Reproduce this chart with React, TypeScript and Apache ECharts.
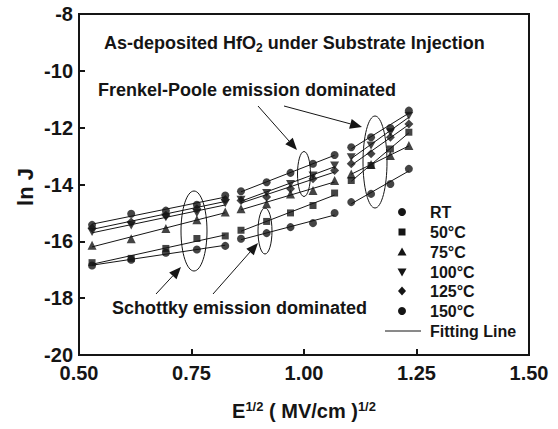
import React, { useEffect, useRef } from "react";
import * as echarts from "echarts";

// x positions (E^1/2) of the three measurement groups
const xLow = [0.529, 0.616, 0.693, 0.762, 0.825];
const xMid = [0.86, 0.917, 0.97, 1.02, 1.068];
const xHigh = [1.105, 1.149, 1.192, 1.233];

// ln J values, per temperature and group
const rtLow = [-16.85, -16.65, -16.4, -16.29, -16.16];
const rtMid = [-15.91, -15.71, -15.5, -15.36, -15.0];
const rtHigh = [-14.62, -14.33, -13.98, -13.45];

const t50Low = [-16.75, -16.6, -16.25, -15.9, -15.81];
const t50Mid = [-15.61, -15.3, -15.0, -14.74, -14.3];
const t50High = [-13.86, -13.33, -12.75, -12.16];

const t75Low = [-16.14, -15.91, -15.55, -15.24, -14.97];
const t75Mid = [-14.85, -14.68, -14.33, -14.21, -13.86];
const t75High = [-13.63, -13.3, -12.98, -12.63];

const t100Low = [-15.67, -15.44, -15.15, -15.0, -14.66];
const t100Mid = [-14.54, -14.3, -13.98, -13.68, -13.33];
const t100High = [-13.04, -12.63, -12.16, -11.58];

const t125Low = [-15.53, -15.32, -15.08, -14.85, -14.53];
const t125Mid = [-14.56, -14.44, -14.15, -13.8, -13.51];
const t125High = [-13.27, -12.92, -12.34, -11.87];

const t150Low = [-15.42, -15.03, -14.92, -14.71, -14.39];
const t150Mid = [-14.24, -13.92, -13.59, -13.27, -12.96];
const t150High = [-12.69, -12.34, -12.01, -11.4];

const seriesNames = ["RT", "50°C", "75°C", "100°C", "125°C", "150°C"];
const lowSets = [rtLow, t50Low, t75Low, t100Low, t125Low, t150Low];
const midSets = [rtMid, t50Mid, t75Mid, t100Mid, t125Mid, t150Mid];
const highSets = [rtHigh, t50High, t75High, t100High, t125High, t150High];

const xTicks = [0.5, 0.75, 1.0, 1.25, 1.5];
const yTicks = [-20, -18, -16, -14, -12, -10, -8];

const DOWN_TRI = "path://M0,0L10,0L5,9Z";
const symbols = ["circle", "rect", "triangle", DOWN_TRI, "diamond", "circle"];
const symbolSizes = [8, 7, 9, [9, 8], 9, 8];
const INK = "#151515";
const FONT = "Liberation Sans, Arial, sans-serif";

function zip(xs: number[], ys: number[]) {
  return xs.map((x, i) => [x, ys[i]]);
}

function fit(xs: number[], ys: number[]) {
  const n = xs.length;
  const mx = xs.reduce((a, b) => a + b, 0) / n;
  const my = ys.reduce((a, b) => a + b, 0) / n;
  let sxy = 0,
    sxx = 0;
  for (let i = 0; i < n; i++) {
    sxy += (xs[i] - mx) * (ys[i] - my);
    sxx += (xs[i] - mx) * (xs[i] - mx);
  }
  const k = sxy / sxx;
  const b = my - k * mx;
  const x0 = xs[0];
  const x1 = xs[n - 1];
  return [
    [x0, k * x0 + b],
    [x1, k * x1 + b],
  ];
}

function arrow(x1: number, y1: number, x2: number, y2: number) {
  const a = Math.atan2(y2 - y1, x2 - x1);
  const L = 12;
  const W = 5;
  const c = Math.cos(a);
  const s = Math.sin(a);
  const bx = x2 - L * c;
  const by = y2 - L * s;
  return [
    {
      type: "line",
      shape: { x1, y1, x2: bx, y2: by },
      style: { stroke: INK, lineWidth: 1 },
    },
    {
      type: "polygon",
      shape: {
        points: [
          [x2, y2],
          [bx - s * W, by + c * W],
          [bx + s * W, by - c * W],
        ],
      },
      style: { fill: INK },
    },
  ];
}

function ellipse(cx: number, cy: number, rx: number, ry: number) {
  return {
    type: "ellipse",
    shape: { cx, cy, rx, ry },
    style: { fill: "none", stroke: INK, lineWidth: 1 },
    z: 10,
  };
}

function legendSymbol(i: number, x: number, y: number) {
  const st = { fill: INK };
  if (symbols[i] === "circle") return { type: "circle", shape: { cx: x, cy: y, r: 4 }, style: st };
  if (symbols[i] === "rect") return { type: "rect", shape: { x: x - 3.5, y: y - 3.5, width: 7, height: 7 }, style: st };
  if (symbols[i] === "triangle")
    return { type: "polygon", shape: { points: [[x, y - 4.5], [x + 4.5, y + 3.5], [x - 4.5, y + 3.5]] }, style: st };
  if (symbols[i] === "diamond")
    return { type: "polygon", shape: { points: [[x, y - 4.5], [x + 4, y], [x, y + 4.5], [x - 4, y]] }, style: st };
  return { type: "polygon", shape: { points: [[x - 4.5, y - 3.5], [x + 4.5, y - 3.5], [x, y + 4.5]] }, style: st };
}

export default function App() {
  const ref = useRef<HTMLDivElement>(null);

  useEffect(() => {
    document.body.style.margin = "0";
    const chart = echarts.init(ref.current!, undefined, { renderer: "svg" });

    const scatter: any[] = seriesNames.map((name, i) => ({
      name,
      type: "scatter",
      symbol: symbols[i],
      symbolSize: symbolSizes[i],
      itemStyle: { color: INK },
      z: 5,
      data: [
        ...zip(xLow, lowSets[i]),
        ...zip(xMid, midSets[i]),
        ...zip(xHigh, highSets[i]),
      ],
    }));

    const lines: any[] = [];
    seriesNames.forEach((name, i) => {
      [
        [xLow, lowSets[i]],
        [xMid, midSets[i]],
        [xHigh, highSets[i]],
      ].forEach(([xs, ys]) => {
        lines.push({
          name: "Fitting Line",
          type: "line",
          symbol: "none",
          lineStyle: { color: INK, width: 1 },
          z: 3,
          data: fit(xs as number[], ys as number[]),
        });
      });
    });

    const legendYs = [212, 232, 252, 272, 291, 311];
    const legendItems: any[] = [];
    seriesNames.forEach((name, i) => {
      legendItems.push(legendSymbol(i, 402, legendYs[i]));
      legendItems.push({
        type: "text",
        x: 430,
        y: legendYs[i],
        style: {
          text: name,
          fontSize: 16,
          fontWeight: "bold",
          fontFamily: FONT,
          fill: INK,
          textVerticalAlign: "middle",
        },
      });
    });
    legendItems.push({
      type: "line",
      shape: { x1: 385, y1: 331, x2: 421, y2: 331 },
      style: { stroke: INK, lineWidth: 1 },
    });
    legendItems.push({
      type: "text",
      x: 430,
      y: 331,
      style: {
        text: "Fitting Line",
        fontSize: 16,
        fontWeight: "bold",
        fontFamily: FONT,
        fill: INK,
        textVerticalAlign: "middle",
      },
    });

    const bigText = (text: string, x: number, y: number, extra: any = {}) => ({
      type: "text",
      x,
      y,
      style: {
        text,
        fontSize: 18,
        fontWeight: "bold",
        fontFamily: FONT,
        fill: INK,
        textVerticalAlign: "middle",
        ...extra,
      },
    });

    const graphic: any[] = [
      bigText("As-deposited HfO{sub|2} under Substrate Injection", 104, 43, {
        rich: {
          sub: { fontSize: 12, fontWeight: "bold", fontFamily: FONT, fill: INK, padding: [10, 0, 0, 0] },
        },
      }),
      bigText("Frenkel-Poole emission dominated", 98, 90),
      bigText("Schottky emission dominated", 112, 308),
      ellipse(194, 231, 13, 40),
      ellipse(265, 231, 7, 23),
      ellipse(304, 174, 6.5, 22.5),
      ellipse(375, 162, 12, 46),
      ...arrow(258, 106, 297, 150),
      ...arrow(284, 106, 362, 127),
      ...arrow(156, 294, 181, 267),
      ...arrow(213, 294, 258, 243),
      ...legendItems,
      {
        type: "text",
        x: 304,
        y: 411,
        style: {
          text: "E{sup|1/2} ( MV/cm ){sup|1/2}",
          fontSize: 20,
          fontWeight: "bold",
          fontFamily: FONT,
          fill: INK,
          textAlign: "center",
          textVerticalAlign: "middle",
          rich: {
            sup: { fontSize: 13, fontWeight: "bold", fontFamily: FONT, fill: INK, padding: [0, 0, 10, 0] },
          },
        },
      },
      {
        type: "text",
        x: 25,
        y: 187,
        rotation: Math.PI / 2,
        style: {
          text: "ln J",
          fontSize: 22,
          fontWeight: "bold",
          fontFamily: FONT,
          fill: INK,
          textAlign: "center",
          textVerticalAlign: "middle",
        },
      },
    ];

    chart.setOption({
      animation: false,
      backgroundColor: "#ffffff",
      grid: {
        left: 79,
        right: 29,
        top: 14,
        bottom: 74,
        show: true,
        borderColor: INK,
        borderWidth: 2,
        backgroundColor: "transparent",
      },
      xAxis: {
        type: "value",
        min: xTicks[0],
        max: xTicks[xTicks.length - 1],
        interval: 0.25,
        splitLine: { show: false },
        axisLine: { lineStyle: { color: INK, width: 2 } },
        axisTick: { inside: true, length: 6, lineStyle: { color: INK, width: 2 } },
        axisLabel: {
          margin: 10,
          fontSize: 20,
          lineHeight: 15,
          fontWeight: "bold",
          fontFamily: FONT,
          color: INK,
          formatter: (v: number) => v.toFixed(2),
        },
      },
      yAxis: {
        type: "value",
        min: yTicks[0],
        max: yTicks[yTicks.length - 1],
        interval: 2,
        splitLine: { show: false },
        axisLine: { lineStyle: { color: INK, width: 2 } },
        axisTick: { inside: true, length: 6, lineStyle: { color: INK, width: 2 } },
        axisLabel: {
          margin: 6,
          fontSize: 20,
          lineHeight: 15,
          fontWeight: "bold",
          fontFamily: FONT,
          color: INK,
        },
      },
      graphic,
      series: [...lines, ...scatter],
    });

    return () => chart.dispose();
  }, []);

  return <div ref={ref} style={{ width: 558, height: 429 }} />;
}
